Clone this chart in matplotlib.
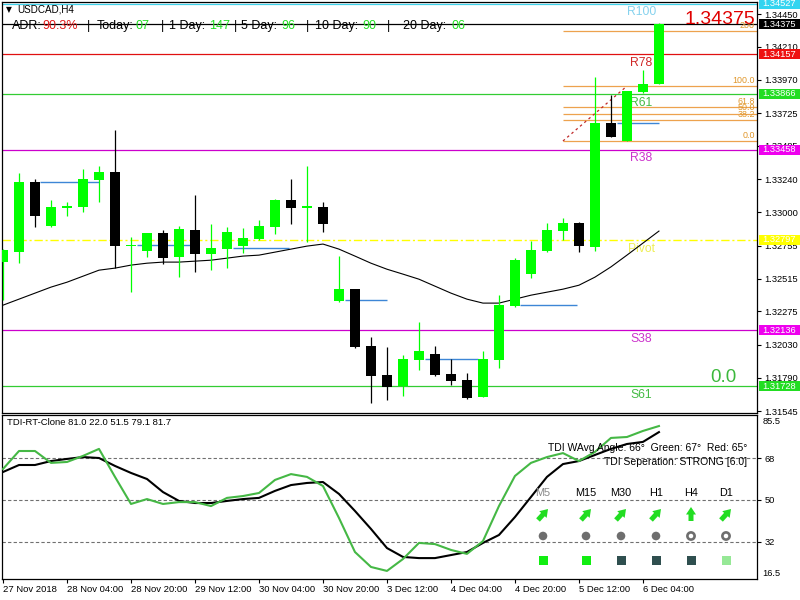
import matplotlib
matplotlib.use("Agg")
import numpy as np
import matplotlib.pyplot as plt
from matplotlib.patches import Rectangle, Circle, FancyArrowPatch
from matplotlib.transforms import blended_transform_factory

plt.rcParams['font.family'] = ['Liberation Sans', 'DejaVu Sans']

# ---------------- data ----------------
symbol = "USDCAD,H4"
opens = [1.32635, 1.32708, 1.33220, 1.32899, 1.33035, 1.33037, 1.33235, 1.33293, 1.32755, 1.32716,
         1.32848, 1.32672, 1.32870, 1.32694, 1.32730, 1.32752, 1.32804, 1.32891, 1.33089, 1.33035,
         1.33037, 1.32350, 1.32438, 1.32021, 1.31809, 1.31728, 1.31919, 1.31962, 1.31816, 1.31772,
         1.31648, 1.31919, 1.32313, 1.32548, 1.32716, 1.32862, 1.32921, 1.32745, 1.33652, 1.33521,
         1.33879, 1.33938]
highs = [1.32730, 1.33286, 1.33242, 1.33089, 1.33074, 1.33315, 1.33337, 1.33601, 1.32818, 1.32848,
         1.32870, 1.32899, 1.33125, 1.32914, 1.32891, 1.32884, 1.32943, 1.33096, 1.33242, 1.33337,
         1.33074, 1.32679, 1.32440, 1.32087, 1.32013, 1.31955, 1.32196, 1.32021, 1.31926, 1.31823,
         1.31984, 1.32394, 1.32665, 1.32789, 1.32921, 1.32957, 1.32925, 1.33989, 1.33857, 1.33890,
         1.34040, 1.34384]
lows = [1.32357, 1.32628, 1.32891, 1.32895, 1.32972, 1.33001, 1.33074, 1.32591, 1.32416, 1.32672,
        1.32621, 1.32526, 1.32562, 1.32577, 1.32591, 1.32701, 1.32800, 1.32840, 1.32914, 1.32782,
        1.32855, 1.32345, 1.32010, 1.31604, 1.31626, 1.31655, 1.31845, 1.31805, 1.31735, 1.31635,
        1.31645, 1.31860, 1.32310, 1.32518, 1.32712, 1.32796, 1.32708, 1.32716, 1.33548, 1.33518,
        1.33872, 1.33935]
closes = [1.32723, 1.33220, 1.32972, 1.33037, 1.33040, 1.33242, 1.33293, 1.32752, 1.32762, 1.32848,
          1.32665, 1.32877, 1.32694, 1.32738, 1.32855, 1.32811, 1.32899, 1.33089, 1.33030, 1.33040,
          1.32914, 1.32438, 1.32013, 1.31801, 1.31721, 1.31926, 1.31984, 1.31809, 1.31765, 1.31640,
          1.31926, 1.32321, 1.32650, 1.32723, 1.32870, 1.32921, 1.32752, 1.33652, 1.33550, 1.33886,
          1.33938, 1.34375]
ma = [1.32320, 1.32364, 1.32408, 1.32452, 1.32488, 1.32532, 1.32576, 1.32591, 1.32613, 1.32627,
      1.32635, 1.32635, 1.32642, 1.32649, 1.32664, 1.32679, 1.32686, 1.32708, 1.32730, 1.32752,
      1.32767, 1.32730, 1.32679, 1.32627, 1.32583, 1.32547, 1.32510, 1.32459, 1.32408, 1.32364,
      1.32335, 1.32335, 1.32364, 1.32393, 1.32415, 1.32437, 1.32466, 1.32525, 1.32600, 1.32686,
      1.32774, 1.32862]

blue_start = [2.3, 8.4, 14.4, 21.4, 26.4, 32.3, 38.4]
blue_end = [6.0, 11.7, 17.9, 24.0, 29.7, 35.9, 41.0]
blue_price = [1.33220, 1.32760, 1.32738, 1.32357, 1.31926, 1.32321, 1.33652]

level_names = ["R100", "R78", "R61", "R38", "Pivot", "S38", "S61"]
level_prices = [1.34527, 1.34157, 1.33866, 1.33458, 1.32797, 1.32136, 1.31728]
level_line_colors = ['#3fd3ec', '#e01010', '#33cc33', '#cc00cc', '#ffff00', '#cc00cc', '#33cc33']
level_text_colors = ['#86d2ee', '#d02828', '#44bb44', '#cc33cc', '#eeee55', '#cc33cc', '#44bb44']
level_box_colors = ['#33d4f0', '#ee1111', '#22dd22', '#ee00ee', '#ffff00', '#ee00ee', '#22dd22']

fib_labels = ["200", "100.0", "61.8", "50.0", "38.2", "0.0"]
fib_ratios = [2.0, 1.0, 0.618, 0.5, 0.382, 0.0]
fib_low, fib_high = 1.33521, 1.33923
fib_start_bar, fib_end_bar = 35, 39

price_ticks = [1.34450, 1.34210, 1.33970, 1.33725, 1.33485, 1.33240, 1.33000,
               1.32755, 1.32515, 1.32275, 1.32030, 1.31790, 1.31545]

time_ticks = [0, 4, 8, 12, 16, 20, 24, 28, 32, 36, 40]
time_labels = ["27 Nov 2018", "28 Nov 04:00", "28 Nov 20:00", "29 Nov 12:00", "30 Nov 04:00",
               "30 Nov 20:00", "3 Dec 12:00", "4 Dec 04:00", "4 Dec 20:00", "5 Dec 12:00",
               "6 Dec 04:00"]

tdi_green = [63.3, 71.0, 71.0, 65.9, 66.3, 68.9, 71.9, 59.9, 48.3, 50.4,
             48.3, 49.1, 49.1, 47.4, 50.9, 51.7, 53.0, 58.6, 61.1, 59.9,
             56.0, 42.3, 27.7, 21.3, 19.6, 24.7, 31.6, 31.1, 28.6, 26.9,
             32.4, 47.4, 60.3, 65.9, 68.4, 70.1, 66.7, 70.6, 76.6, 77.0,
             79.6, 81.7]
tdi_black = [62.0, 65.0, 65.0, 66.7, 67.6, 68.4, 68.0, 64.6, 61.6, 59.0,
             53.4, 49.6, 48.7, 48.7, 49.6, 50.4, 50.9, 53.9, 56.4, 57.3,
             57.7, 52.6, 45.3, 37.6, 29.4, 25.6, 25.1, 25.1, 26.4, 27.7,
             31.6, 35.0, 42.7, 51.3, 59.9, 65.4, 66.7, 69.3, 71.9, 74.0,
             74.9, 79.1]
tdi_levels = [68, 50, 32]

adr_parts = [("ADR:", 'k'), ("90.3%", 'r'), ("|", 'k'), ("Today:", 'k'), ("07", 'g'), ("|", 'k'),
             ("1 Day:", 'k'), ("147", 'g'), ("|", 'k'), ("5 Day:", 'k'), ("96", 'g'), ("|", 'k'),
             ("10 Day:", 'k'), ("90", 'g'), ("|", 'k'), ("20 Day:", 'k'), ("06", 'g')]

tf_labels = ["M5", "M15", "M30", "H1", "H4", "D1"]
tf_arrows = ["ne", "ne", "ne", "ne", "up", "ne"]
tf_dot_filled = [True, True, True, True, False, False]
tf_square_colors = ['#11ee11', '#11ee11', '#2f4f4f', '#2f4f4f', '#2f4f4f', '#96e896']

# ---------------- layout ----------------
W, H = 800, 600
fig = plt.figure(figsize=(8, 6), dpi=100)
fig.patch.set_facecolor('white')

def add_px_axes(l, t, r, b, **kw):
    return fig.add_axes([l / W, 1 - b / H, (r - l) / W, (b - t) / H], **kw)

AXL, AXR = 2, 757.5
ax = add_px_axes(AXL, 2, AXR, 413)
ax2 = add_px_axes(AXL, 415, AXR, 579)
ov = fig.add_axes([0, 0, 1, 1], zorder=20)
ov.set_xlim(0, W); ov.set_ylim(H, 0); ov.axis('off'); ov.patch.set_alpha(0)

n = len(closes)
xs = np.arange(n)
xlim = (-0.0625, 47.16)
ylim = (1.31531, 1.34538)
px_per_unit = 411 / (ylim[1] - ylim[0])
GREEN = '#00ff00'

for a in (ax, ax2):
    a.set_xlim(*xlim)
    for s in a.spines.values():
        s.set_color('black'); s.set_linewidth(0.9)
ax.set_ylim(*ylim)

# levels
for name, p, lc, tc in zip(level_names, level_prices, level_line_colors, level_text_colors):
    if name == "Pivot":
        ax.axhline(p, color=lc, lw=1.0, dashes=(6, 2, 1.5, 2), zorder=1)
    else:
        ax.axhline(p, color=lc, lw=0.9, zorder=1)
    ax.annotate(name, xy=(39.9, p), xytext=(0, -2), textcoords='offset points',
                ha='center', va='top', fontsize=8.7, color=tc, zorder=2)
ax.axhline(closes[-1], color='black', lw=0.9, zorder=1)

# fibonacci
fib_prices = [fib_low + r * (fib_high - fib_low) for r in fib_ratios]
bt = blended_transform_factory(ax.transAxes, ax.transData)
for lab, p in zip(fib_labels, fib_prices):
    ax.hlines(p, fib_start_bar, xlim[1], color='#eda24e', lw=0.9, zorder=1)
    ax.annotate(lab, xy=(0.9967, p), xycoords=bt, xytext=(0, 0.8), textcoords='offset points',
                ha='right', va='bottom', fontsize=6.4, color='#e0962a', zorder=2)
ax.plot([fib_start_bar, fib_end_bar], [fib_low, fib_high], color='#c02828', lw=0.9,
        dashes=(2, 2.5), zorder=1)

# blue segments
ax.hlines(blue_price, blue_start, blue_end, color='#3d86d6', lw=1.0, zorder=2)

# moving average
ax.plot(xs, ma, color='black', lw=0.8, zorder=2.5)

# candles
body_w = 0.66
min_h = 1.2 / px_per_unit
for i in range(n):
    o, h, l, c = opens[i], highs[i], lows[i], closes[i]
    col = GREEN if c > o else 'black'
    ax.vlines(i, l, h, color=col, lw=0.9, zorder=3)
    ht = abs(c - o)
    bot = min(o, c)
    if ht < min_h:
        bot = (o + c) / 2 - min_h / 2
        ht = min_h
    ax.add_patch(Rectangle((i - body_w / 2, bot), body_w, ht, facecolor=col,
                           edgecolor='none', zorder=4))

# price axis
ax.yaxis.tick_right()
ax.set_yticks(price_ticks)
ax.set_yticklabels([f"{p:.5f}" for p in price_ticks])
ax.tick_params(axis='y', direction='out', length=3, width=0.8, pad=2, labelsize=6.7)
ax.set_xticks([])

# price boxes
box_w = 43 / (AXR - AXL)
box_h = 10 / px_per_unit
def price_box(p, fc, tc='white'):
    ax.add_patch(Rectangle((1.0 + 1.5 / (AXR - AXL), p - box_h / 2), box_w, box_h, transform=bt,
                           facecolor=fc, edgecolor='none', clip_on=False, zorder=10))
    ax.text(1.0 + 5 / (AXR - AXL), p, f"{p:.5f}", transform=bt, ha='left', va='center',
            fontsize=6.7, color=tc, clip_on=False, zorder=11)
for p, bc in zip(level_prices, level_box_colors):
    price_box(p, bc)
price_box(closes[-1], 'black')

# ---------------- TDI panel ----------------
ax2.set_ylim(16.14, 86.43)
for v in tdi_levels:
    ax2.axhline(v, color='#707070', lw=0.8, dashes=(3, 2), zorder=1)
ax2.plot(xs, tdi_black, color='black', lw=1.5, zorder=3)
ax2.plot(xs, tdi_green, color='#45b845', lw=1.5, zorder=4)
ax2.yaxis.tick_right()
ax2.set_yticks(tdi_levels)
ax2.set_yticklabels([str(v) for v in tdi_levels])
ax2.tick_params(axis='y', direction='out', length=3, width=0.8, pad=2, labelsize=6.7)
bt2 = blended_transform_factory(ax2.transAxes, ax2.transData)
ax2.text(1.0 + 5 / (AXR - AXL), 85.5, "85.5", transform=bt2, ha='left', va='top', fontsize=6.7)
ax2.text(1.0 + 5 / (AXR - AXL), 16.5, "16.5", transform=bt2, ha='left', va='bottom', fontsize=6.7)
ax2.set_xticks(time_ticks)
ax2.set_xticklabels(time_labels, ha='left')
ax2.tick_params(axis='x', direction='out', length=3, width=0.8, pad=1.5, labelsize=6.8)

ax2.text(0.0065, 0.955, "TDI-RT-Clone %.1f %.1f %.1f %.1f %.1f" % (81.0, 22.0, 51.5, tdi_black[-1], tdi_green[-1]),
         transform=ax2.transAxes, ha='left', va='center', fontsize=6.8)

# ---------------- overlay texts ----------------
ov.text(9, 10, "▼", ha='center', va='center', fontsize=5.5, family=['DejaVu Sans'])
ov.text(17, 10, symbol, ha='left', va='center', fontsize=7.1)
adr_x = [12, 42, 87, 97, 135, 161, 169, 209, 234, 241, 281, 306, 315, 362, 387, 403, 451]
cmap = {'k': 'black', 'r': '#e01818', 'g': '#22dd22'}
for (t, c), xp in zip(adr_parts, adr_x):
    ov.text(xp, 26, t, ha='left', va='center', fontsize=9, color=cmap[c])

ov.text(755, 19, f"{closes[-1]:.5f}", ha='right', va='center', fontsize=14, color='#e00000')
ov.text(723, 377, "0.0", ha='center', va='center', fontsize=13.5, color='#3cb83c')

ov.text(747, 448, "TDI WAvg Angle: 66°  Green: 67°  Red: 65°", ha='right', va='center', fontsize=7.5)
ov.text(747, 462, "TDI Seperation: STRONG [6.0]", ha='right', va='center', fontsize=7.5)

tf_x = [543, 586, 621, 656, 691, 726]
for k, (lab, xp) in enumerate(zip(tf_labels, tf_x)):
    ov.text(xp, 493, lab, ha='center', va='center', fontsize=7.8,
            color='#888888' if k == 0 else 'black')
    if tf_arrows[k] == 'ne':
        p0, p1 = (xp - 5, 520), (xp + 5, 509)
    else:
        p0, p1 = (xp, 521), (xp, 507)
    ov.add_patch(FancyArrowPatch(p0, p1, arrowstyle='simple,head_length=0.6,head_width=0.8,tail_width=0.4',
                                 mutation_scale=9, shrinkA=0, shrinkB=0,
                                 facecolor='#22dd22', edgecolor='none'))
    if tf_dot_filled[k]:
        ov.add_patch(Circle((xp, 536), 4.3, facecolor='#6e6e6e', edgecolor='none'))
    else:
        ov.add_patch(Circle((xp, 536), 3.6, facecolor='white', edgecolor='#6e6e6e', lw=1.9))
    ov.add_patch(Rectangle((xp - 4.5, 555.5), 9, 9, facecolor=tf_square_colors[k], edgecolor='none'))

fig.savefig("out.png", dpi=100, facecolor='white')
